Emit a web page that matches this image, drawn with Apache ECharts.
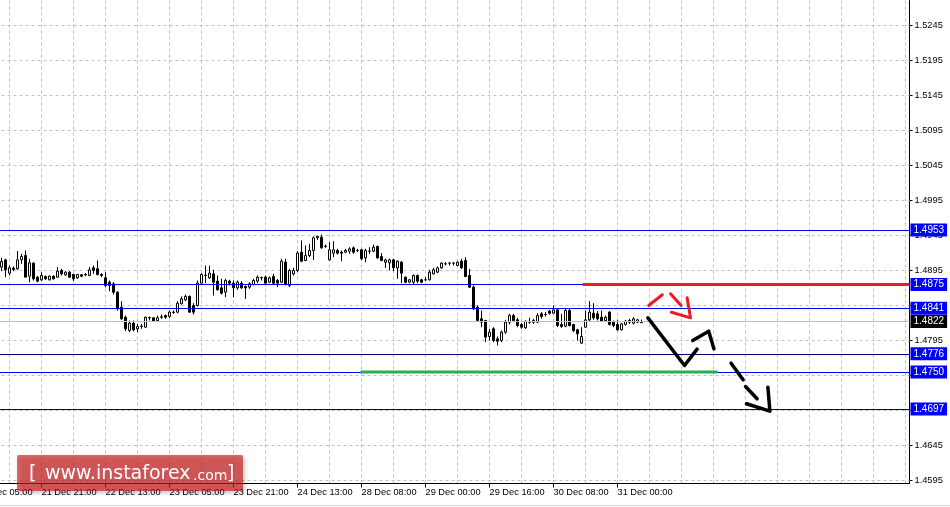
<!DOCTYPE html>
<html><head><meta charset="utf-8">
<script src="https://cdn.jsdelivr.net/npm/echarts@6/dist/echarts.min.js"></script>
<style>html,body{margin:0;padding:0;background:#fff;overflow:hidden}#c{width:950px;height:507px}</style>
</head><body><div id="c"></div>
<script>
// ---------- data ----------
const tickLabels = ['21 Dec 05:00','21 Dec 21:00','22 Dec 13:00','23 Dec 05:00','23 Dec 21:00','24 Dec 13:00','28 Dec 08:00','29 Dec 00:00','29 Dec 16:00','30 Dec 08:00','31 Dec 00:00'];
const yTicks = [1.4595,1.4645,1.4695,1.4745,1.4795,1.4845,1.4895,1.4945,1.4995,1.5045,1.5095,1.5145,1.5195,1.5245];

const opens = [
1.48998,1.49102,1.48912,1.48983,1.48974,1.49102,1.49164,1.48869,1.49055,1.48855,
1.48817,1.48864,1.48817,1.48869,1.48855,1.48950,1.48888,1.48926,1.48893,1.48845,
1.48888,1.48893,1.48879,1.48988,1.48974,1.48893,1.48845,1.48783,1.48760,1.48640,
1.48426,1.48283,1.48093,1.48198,1.48117,1.48150,1.48140,1.48274,1.48274,1.48236,
1.48283,1.48307,1.48293,1.48350,1.48355,1.48474,1.48531,1.48579,1.48450,1.48450,
1.48769,1.48879,1.48845,1.48902,1.48798,1.48702,1.48640,1.48798,1.48769,1.48702,
1.48769,1.48721,1.48712,1.48750,1.48798,1.48845,1.48855,1.48783,1.48864,1.48807,
1.48783,1.49069,1.48736,1.48902,1.48950,1.49212,1.49093,1.49164,1.49236,1.49417,
1.49426,1.49293,1.49102,1.49198,1.49236,1.49212,1.49212,1.49226,1.49274,1.49236,
1.49245,1.49131,1.49226,1.49226,1.49293,1.49150,1.49069,1.49060,1.49102,1.48988,
1.49069,1.48855,1.48783,1.48783,1.48879,1.48817,1.48817,1.48817,1.48902,1.48926,
1.48988,1.49045,1.49055,1.49055,1.49021,1.49083,1.49093,1.48879,1.48712,1.48426,
1.48260,1.48236,1.48007,1.48117,1.47974,1.47950,1.48069,1.48212,1.48307,1.48245,
1.48179,1.48131,1.48212,1.48236,1.48212,1.48331,1.48321,1.48369,1.48340,1.48388,
1.48179,1.48155,1.48379,1.48179,1.48102,1.47912,1.48140,1.48245,1.48340,1.48331,
1.48283,1.48236,1.48355,1.48212,1.48179,1.48102,1.48179,1.48236,1.48198,1.48212,
1.48205];
const closes = [
1.49079,1.48960,1.48988,1.48964,1.49102,1.49150,1.48855,1.49060,1.48831,1.48798,
1.48879,1.48831,1.48869,1.48831,1.48940,1.48902,1.48926,1.48855,1.48831,1.48893,
1.48869,1.48888,1.48960,1.48950,1.48893,1.48879,1.48736,1.48736,1.48640,1.48402,
1.48260,1.48117,1.48198,1.48102,1.48150,1.48155,1.48283,1.48279,1.48226,1.48274,
1.48288,1.48283,1.48355,1.48355,1.48483,1.48545,1.48579,1.48355,1.48355,1.48769,
1.48893,1.48884,1.48912,1.48783,1.48674,1.48626,1.48807,1.48769,1.48702,1.48783,
1.48702,1.48702,1.48760,1.48807,1.48855,1.48850,1.48769,1.48845,1.48769,1.48769,
1.49083,1.48750,1.48950,1.48950,1.49198,1.49083,1.49164,1.49236,1.49417,1.49436,
1.49274,1.49298,1.49245,1.49245,1.49198,1.49198,1.49236,1.49260,1.49212,1.49236,
1.49117,1.49236,1.49226,1.49283,1.49131,1.49093,1.49102,1.49102,1.48988,1.49083,
1.48912,1.48783,1.48817,1.48879,1.48798,1.48783,1.48817,1.48926,1.48960,1.48988,
1.49055,1.49045,1.49055,1.49055,1.49069,1.48988,1.48864,1.48712,1.48402,1.48236,
1.48212,1.47998,1.48069,1.47950,1.47940,1.48069,1.48212,1.48307,1.48236,1.48164,
1.48140,1.48226,1.48212,1.48212,1.48307,1.48293,1.48321,1.48340,1.48388,1.48164,
1.48150,1.48379,1.48164,1.48093,1.48045,1.48007,1.48245,1.48355,1.48274,1.48260,
1.48226,1.48283,1.48179,1.48164,1.48102,1.48188,1.48226,1.48212,1.48260,1.48245,
1.48221];
const lows = [
1.48940,1.48855,1.48879,1.48940,1.48960,1.49045,1.48855,1.48783,1.48807,1.48783,
1.48798,1.48817,1.48807,1.48821,1.48845,1.48879,1.48874,1.48845,1.48798,1.48831,
1.48855,1.48869,1.48869,1.48902,1.48879,1.48855,1.48712,1.48655,1.48607,1.48379,
1.48245,1.48083,1.48069,1.48083,1.48069,1.48117,1.48131,1.48236,1.48217,1.48212,
1.48260,1.48260,1.48274,1.48331,1.48340,1.48464,1.48512,1.48350,1.48321,1.48436,
1.48760,1.48769,1.48831,1.48593,1.48664,1.48607,1.48569,1.48736,1.48569,1.48674,
1.48688,1.48545,1.48688,1.48736,1.48769,1.48807,1.48760,1.48769,1.48760,1.48712,
1.48769,1.48736,1.48712,1.48879,1.48926,1.49069,1.49083,1.49140,1.49102,1.49388,
1.49260,1.49274,1.49093,1.49140,1.49179,1.49083,1.49198,1.49188,1.49188,1.49212,
1.49102,1.49069,1.49188,1.49212,1.49117,1.49083,1.48988,1.48950,1.48940,1.48831,
1.48769,1.48769,1.48769,1.48750,1.48769,1.48769,1.48798,1.48807,1.48893,1.48912,
1.48974,1.49021,1.49021,1.49021,1.49012,1.48974,1.48855,1.48702,1.48388,1.48226,
1.48140,1.47926,1.47950,1.47926,1.47879,1.47926,1.48045,1.48179,1.48212,1.48140,
1.48117,1.48117,1.48188,1.48188,1.48198,1.48260,1.48293,1.48321,1.48331,1.48140,
1.48131,1.48140,1.48150,1.48069,1.47950,1.47902,1.48131,1.48226,1.48245,1.48236,
1.48212,1.48212,1.48164,1.48140,1.48093,1.48093,1.48164,1.48188,1.48179,1.48198,
1.48198];
const highs = [
1.49131,1.49117,1.49021,1.49007,1.49226,1.49188,1.49236,1.49117,1.49069,1.48869,
1.48926,1.48879,1.48879,1.48879,1.48998,1.48974,1.48940,1.48940,1.48902,1.48902,
1.48902,1.48912,1.48998,1.49021,1.49093,1.48912,1.48926,1.48807,1.48783,1.48655,
1.48512,1.48307,1.48236,1.48236,1.48188,1.48188,1.48293,1.48293,1.48283,1.48307,
1.48321,1.48321,1.48379,1.48379,1.48512,1.48579,1.48607,1.48593,1.48483,1.48807,
1.48912,1.49021,1.49021,1.48960,1.48879,1.48831,1.48831,1.48817,1.48807,1.48807,
1.48798,1.48736,1.48783,1.48831,1.48879,1.48864,1.48879,1.48864,1.48902,1.48831,
1.49117,1.49117,1.48974,1.48988,1.49226,1.49379,1.49307,1.49331,1.49436,1.49450,
1.49464,1.49321,1.49355,1.49369,1.49260,1.49236,1.49260,1.49283,1.49293,1.49260,
1.49260,1.49260,1.49283,1.49321,1.49307,1.49198,1.49117,1.49117,1.49117,1.49093,
1.49083,1.48864,1.48831,1.48893,1.48893,1.48831,1.48855,1.48960,1.48988,1.49007,
1.49069,1.49069,1.49069,1.49069,1.49079,1.49117,1.49140,1.48974,1.48736,1.48450,
1.48379,1.48245,1.48117,1.48140,1.48007,1.48093,1.48245,1.48331,1.48331,1.48274,
1.48198,1.48236,1.48274,1.48260,1.48340,1.48355,1.48355,1.48388,1.48450,1.48402,
1.48331,1.48417,1.48402,1.48188,1.48117,1.48140,1.48379,1.48512,1.48483,1.48369,
1.48379,1.48307,1.48369,1.48236,1.48245,1.48198,1.48245,1.48260,1.48283,1.48260,
1.48250];

// horizontal levels (price) shown with boxes on the price scale
const levelValues = [1.4953, 1.4875, 1.4841, 1.4822, 1.4776, 1.4750, 1.4697];
// resistance (red) and support (green) segments: [barIndex, price]
const resistanceSeg = [[145.25, 1.4875], [227, 1.4875]];
const supportSeg = [[89.75, 1.4750], [179, 1.4750]];
// hand-drawn forecast strokes: [barIndex, price]
const forecastBlack = [
  [[161.6,1.48274],[170.75,1.47593],[173.9,1.47826]],
  [[172.8,1.4795],[176.8,1.48083],[178.1,1.47831]],
  [[182.4,1.47626],[185.4,1.47389]],
  [[186,1.47293],[188.9,1.47117]],
  [[186.25,1.47046],[192.1,1.4694],[191.6,1.47283]]
];
const forecastRed = [
  [[161.8,1.4845],[165.2,1.48603]],
  [[167.25,1.48617],[169.9,1.4845]],
  [[167.5,1.48354],[172.25,1.48274],[171.4,1.4856]]
];

// ---------- chart ----------
const FONT = 'Liberation Sans';
const PRE = 6;            // empty slots before first bar
const N = 234;            // category slots on the time axis
const cats = Array.from({length: N}, (_, i) => String(i));
const candleData = opens.map((o, k) => [k + PRE, o, closes[k], lows[k], highs[k]]);
const showLabel = i => i % 16 === 0 && (i / 16) < tickLabels.length;

const levelColors = ['#0000ff','#0000ff','#0000ff','#c0c0c0','#000080','#0000ff','#000080'];
const levelBg = ['#0000ff','#0000ff','#0000ff','#000000','#0000ff','#0000ff','#0000ff'];

const levelSeries = levelValues.map((v, i) => ({
  type: 'line', xAxisIndex: 1, yAxisIndex: 0, data: [], z: 5, color: levelColors[i],
  markLine: {
    silent: true, symbol: 'none', z: 5, animation: false, precision: 5,
    lineStyle: {color: levelColors[i], width: 1, type: 'solid', opacity: 1},
    label: {show: true, position: 'end', distance: 1, formatter: v.toFixed(4),
      color: '#ffffff', backgroundColor: levelBg[i], padding: [2, 3, 1, 3],
      fontSize: 10, fontFamily: FONT},
    data: [{yAxis: v}]
  }
}));

const strokeSeries = (list, color, width) => list.map(pts => ({
  type: 'line', xAxisIndex: 1, yAxisIndex: 0, data: pts, symbol: 'none', silent: true, z: 8,
  lineStyle: {color: color, width: width, cap: 'round', join: 'round'}
}));

const chart = echarts.init(document.getElementById('c'), null, {renderer: 'canvas'});
chart.setOption({
  animation: false,
  backgroundColor: '#ffffff',
  textStyle: {fontFamily: FONT},
  grid: {left: -22.5, top: 0.5, width: 932, height: 483, containLabel: false, outerBoundsMode: 'none'},
  xAxis: [{
    type: 'category', data: cats, boundaryGap: false,
    axisLine: {show: true, onZero: false, lineStyle: {color: '#000', width: 1}},
    axisTick: {show: true, interval: (i) => showLabel(i), length: 4, lineStyle: {color: '#000'}},
    axisLabel: {interval: (i) => showLabel(i), formatter: (v, i) => showLabel(i) ? tickLabels[i / 16] : '',
      align: 'left', margin: 4, fontSize: 9.25, color: '#000', fontFamily: FONT, hideOverlap: false},
    splitLine: {show: true, interval: (i) => i % 8 === 0, lineStyle: {color: '#c0c0c0', type: [3, 3], width: 1}}
  }, {
    type: 'value', min: -PRE, max: N - 1 - PRE, show: false
  }],
  yAxis: [{
    type: 'value', position: 'right', min: 1.4590714, max: 1.5280714,
    axisLine: {show: true, onZero: false, lineStyle: {color: '#000', width: 1}},
    axisTick: {show: true, customValues: yTicks, length: 3, lineStyle: {color: '#000'}},
    axisLabel: {customValues: yTicks, formatter: v => v.toFixed(4), margin: 5, fontSize: 9.25, color: '#000', fontFamily: FONT},
    splitLine: {show: false}
  }],
  series: [
    {
      type: 'candlestick', xAxisIndex: 0, yAxisIndex: 0, data: candleData,
      encode: {x: 0, y: [1, 2, 3, 4]}, barWidth: 3, z: 3, silent: true,
      itemStyle: {color: '#ffffff', color0: '#000000', borderColor: '#000000', borderColor0: '#000000', borderWidth: 1},
      markLine: {
        silent: true, symbol: 'none', z: 1, animation: false, precision: 5,
        label: {show: false},
        lineStyle: {color: '#c0c0c0', type: [3, 3], width: 1},
        data: yTicks.map(v => ({yAxis: v}))
      }
    },
    ...levelSeries,
    {type: 'line', xAxisIndex: 1, yAxisIndex: 0, data: resistanceSeg, symbol: 'none', silent: true, z: 6,
      lineStyle: {color: '#ec1c24', width: 3}},
    {type: 'line', xAxisIndex: 1, yAxisIndex: 0, data: supportSeg, symbol: 'none', silent: true, z: 6,
      lineStyle: {color: '#22b14c', width: 3}},
    ...strokeSeries(forecastRed, '#ec1c24', 3),
    ...strokeSeries(forecastBlack, '#000000', 3.5)
  ],
  graphic: [
    {type: 'line', shape: {x1: 0, y1: 505.5, x2: 950, y2: 505.5}, style: {stroke: '#d8d8d8', lineWidth: 1}, z: 50},
    {type: 'rect', x: 17, y: 455, shape: {width: 226, height: 36, r: 2},
      style: {fill: 'rgba(210,25,25,0.65)', shadowBlur: 4, shadowColor: 'rgba(0,0,0,0.35)', shadowOffsetX: 2, shadowOffsetY: 2}, z: 100},
    {type: 'text', x: 29, y: 474, z: 101, style: {text: '[', fill: '#fff', font: '19px "DejaVu Sans"', align: 'left', verticalAlign: 'middle'}},
    {type: 'text', x: 45, y: 474, z: 101, style: {text: 'www.instaforex', fill: '#fff', font: '19px "DejaVu Sans"', align: 'left', verticalAlign: 'middle'}},
    {type: 'text', x: 193, y: 476, z: 101, style: {text: '.com', fill: '#fff', font: '14px "DejaVu Sans"', align: 'left', verticalAlign: 'middle'}},
    {type: 'text', x: 227, y: 474, z: 101, style: {text: ']', fill: '#fff', font: '19px "DejaVu Sans"', align: 'left', verticalAlign: 'middle'}}
  ]
});
</script>
</body></html>
